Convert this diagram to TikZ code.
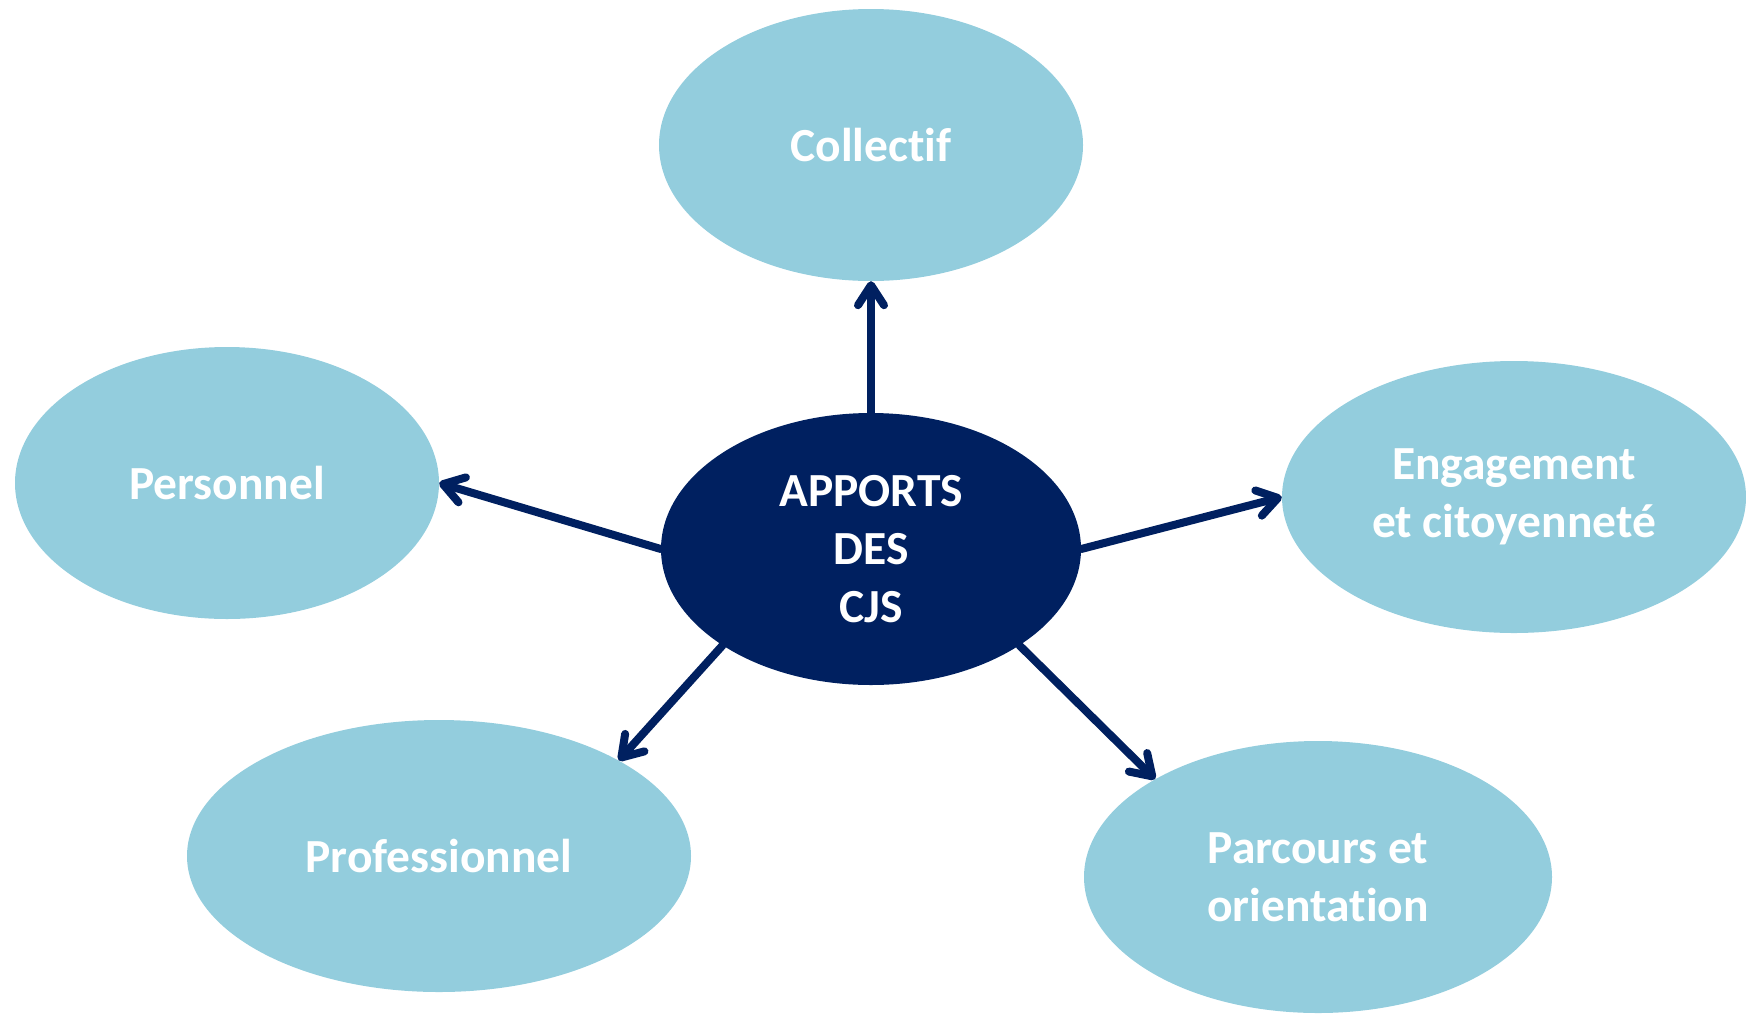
\documentclass[tikz,border=0pt]{standalone}
\usepackage{fontspec}
\setmainfont{Carlito}[Ligatures=NoCommon]
\usetikzlibrary{shapes.geometric,arrows.meta}
\definecolor{navy}{HTML}{002060}
\definecolor{aqua}{HTML}{93CDDD}
\tikzset{
  bubble/.style={ellipse, fill=aqua, inner sep=0pt, minimum height=272pt,
    text=white, font=\fontsize{47.5}{58}\selectfont\bfseries, align=center},
  hub/.style={bubble, fill=navy},
  link/.style={draw=navy, line width=8pt, line cap=round,
    -{Straight Barb[length=20pt,width=26pt,round]}}
}
\begin{document}
\begin{tikzpicture}[x=1pt,y=-1pt]
\useasboundingbox (0,0) rectangle (1746,1013);
\node[hub, minimum width=420pt] (c) at (871,549) {APPORTS\\DES\\CJS};
\node[bubble, minimum width=424pt] (col) at (871,145) {Collectif};
\node[bubble, minimum width=424pt] (per) at (227,483) {Personnel};
\node[bubble, minimum width=464pt] (eng) at (1514,497) {Engagement\\et citoyenneté};
\node[bubble, minimum width=504pt] (pro) at (439,856) {Professionnel};
\node[bubble, minimum width=468pt] (par) at (1318,877) {Parcours et\\orientation};
\draw[link] (c.north) -- (col.south);
\draw[link] (c.west) -- (per.east);
\draw[link] (c.east) -- (eng.west);
\draw[link] (c.213.5) -- (pro.28.8);
\draw[link] (c.327.7) -- (par.149.7);
\end{tikzpicture}
\end{document}
